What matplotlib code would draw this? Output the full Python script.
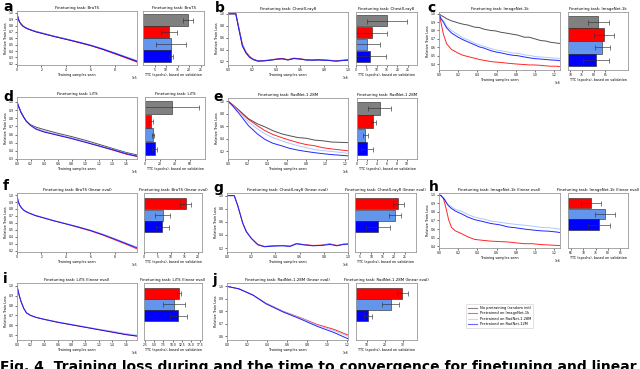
import matplotlib
matplotlib.use("Agg")
import matplotlib.pyplot as plt

# ---- curve data (x in training samples, y relative train loss) ----
# a / f : BraTS
brats_x = [0, 5e3, 1e4, 2e4, 3.5e4, 5e4, 7e4, 1e5, 1.5e5, 2e5, 3e5, 4e5, 5e5, 6e5, 7e5, 8e5, 9e5, 9.8e5]
brats_k = [1.0, 0.95, 0.91, 0.86, 0.82, 0.79, 0.765, 0.74, 0.71, 0.685, 0.635, 0.59, 0.54, 0.49, 0.43, 0.36, 0.29, 0.235]
brats_r = [1.0, 0.95, 0.91, 0.86, 0.82, 0.79, 0.765, 0.74, 0.705, 0.68, 0.63, 0.585, 0.535, 0.485, 0.425, 0.355, 0.285, 0.225]
brats_lb = [1.0, 0.95, 0.91, 0.86, 0.82, 0.79, 0.765, 0.74, 0.71, 0.685, 0.635, 0.59, 0.545, 0.495, 0.44, 0.37, 0.305, 0.25]
brats_b = [1.0, 0.95, 0.91, 0.86, 0.82, 0.79, 0.765, 0.74, 0.705, 0.68, 0.63, 0.585, 0.54, 0.49, 0.43, 0.365, 0.295, 0.24]

# b / g : ChestX-ray8
cxr_x = [0, 3e4, 6.5e4, 9e4, 1.2e5, 1.5e5, 1.8e5, 2.1e5, 2.5e5, 3e5, 3.5e5, 4e5, 4.5e5, 5e5, 5.5e5,
         6e5, 6.5e5, 7e5, 7.5e5, 8e5, 8.5e5, 9e5, 9.5e5, 1e6]
cxr_k = [1.0, 1.0, 1.0, 0.75, 0.46, 0.34, 0.27, 0.23, 0.205, 0.21, 0.22, 0.235, 0.245, 0.225, 0.25,
         0.24, 0.225, 0.22, 0.225, 0.22, 0.215, 0.205, 0.215, 0.22]
cxr_r = [1.0, 1.0, 1.0, 0.77, 0.49, 0.36, 0.285, 0.24, 0.21, 0.215, 0.225, 0.24, 0.25, 0.23, 0.255,
         0.245, 0.23, 0.225, 0.23, 0.225, 0.22, 0.21, 0.22, 0.23]
cxr_lb = [1.0, 1.0, 1.0, 0.76, 0.47, 0.35, 0.275, 0.235, 0.205, 0.21, 0.22, 0.235, 0.24, 0.225, 0.245,
          0.24, 0.225, 0.22, 0.22, 0.22, 0.215, 0.205, 0.215, 0.22]
cxr_b = [1.0, 1.0, 1.0, 0.75, 0.46, 0.345, 0.27, 0.232, 0.205, 0.21, 0.22, 0.235, 0.245, 0.225, 0.25,
         0.24, 0.225, 0.22, 0.225, 0.22, 0.215, 0.205, 0.215, 0.22]
cxrl_x = [0, 3e4, 6e4, 9e4, 1.3e5, 1.6e5, 2e5, 2.55e5, 3.1e5, 3.8e5, 4.6e5, 5.2e5, 5.75e5, 6.3e5,
          7.1e5, 7.8e5, 8.5e5, 9.1e5, 9.6e5, 1e6]
cxrl_r = [1.0, 1.0, 1.0, 0.84, 0.58, 0.45, 0.35, 0.255, 0.225, 0.235, 0.24, 0.23, 0.27, 0.255, 0.24,
          0.245, 0.265, 0.24, 0.26, 0.265]
cxrl_lb = [1.0, 1.0, 1.0, 0.84, 0.58, 0.45, 0.35, 0.25, 0.22, 0.23, 0.235, 0.225, 0.265, 0.25, 0.235,
           0.24, 0.26, 0.235, 0.255, 0.26]
cxrl_b = [1.0, 1.0, 1.0, 0.84, 0.58, 0.45, 0.35, 0.25, 0.22, 0.23, 0.235, 0.225, 0.265, 0.25, 0.235,
          0.24, 0.255, 0.235, 0.255, 0.26]

# c : ImageNet-1k
inet_x = [0, 2e4, 4.5e4, 8e4, 1.3e5, 2e5, 2.5e5, 3e5, 3.7e5, 4.2e5, 4.7e5, 5.4e5, 5.9e5, 6.4e5, 7.2e5,
          7.7e5, 8.2e5, 8.9e5, 9.4e5, 1.0e6, 1.06e6, 1.11e6, 1.16e6, 1.23e6, 1.26e6]
inet_k = [1.0, 0.98, 0.965, 0.94, 0.915, 0.89, 0.875, 0.865, 0.84, 0.835, 0.815, 0.8, 0.795, 0.78, 0.765,
          0.755, 0.745, 0.72, 0.72, 0.70, 0.68, 0.675, 0.66, 0.65, 0.645]
inet_r = [1.0, 0.9, 0.76, 0.64, 0.575, 0.53, 0.505, 0.49, 0.47, 0.455, 0.445, 0.43, 0.425, 0.42, 0.41,
          0.405, 0.40, 0.395, 0.39, 0.39, 0.385, 0.38, 0.375, 0.375, 0.37]
inet_lb = [1.0, 0.95, 0.92, 0.85, 0.8, 0.75, 0.71, 0.69, 0.65, 0.63, 0.61, 0.585, 0.57, 0.56, 0.545,
           0.53, 0.53, 0.51, 0.505, 0.49, 0.485, 0.48, 0.475, 0.47, 0.465]
inet_b = [1.0, 0.94, 0.9, 0.83, 0.77, 0.72, 0.69, 0.665, 0.63, 0.605, 0.59, 0.56, 0.545, 0.535, 0.515,
          0.505, 0.50, 0.485, 0.475, 0.465, 0.46, 0.455, 0.45, 0.445, 0.44]

# d / i : LiTS
lits_x = [0, 3e4, 6e4, 1e5, 1.4e5, 2e5, 2.8e5, 4e5, 6e5, 8e5, 1e6, 1.2e6, 1.4e6, 1.6e6, 1.76e6]
lits_k = [1.0, 0.93, 0.87, 0.81, 0.76, 0.72, 0.69, 0.66, 0.615, 0.575, 0.53, 0.48, 0.43, 0.38, 0.35]
lits_r = [1.0, 0.93, 0.87, 0.81, 0.76, 0.715, 0.67, 0.635, 0.595, 0.555, 0.51, 0.46, 0.41, 0.36, 0.33]
lits_lb = [1.0, 0.93, 0.87, 0.81, 0.76, 0.715, 0.675, 0.64, 0.6, 0.56, 0.515, 0.465, 0.42, 0.37, 0.34]
lits_b = [1.0, 0.93, 0.87, 0.81, 0.76, 0.71, 0.665, 0.63, 0.59, 0.55, 0.505, 0.46, 0.415, 0.365, 0.335]
litsl_r = [1.0, 0.91, 0.84, 0.77, 0.725, 0.7, 0.68, 0.66, 0.63, 0.605, 0.58, 0.555, 0.53, 0.505, 0.49]
litsl_lb = [1.0, 0.91, 0.84, 0.77, 0.725, 0.7, 0.68, 0.66, 0.635, 0.61, 0.585, 0.56, 0.54, 0.515, 0.5]
litsl_b = [1.0, 0.91, 0.84, 0.77, 0.725, 0.7, 0.68, 0.66, 0.63, 0.605, 0.58, 0.555, 0.53, 0.505, 0.49]

# e / j : RadNet-1.28M
rad_x = [0, 5e4, 1.1e5, 1.6e5, 2.1e5, 3e5, 3.8e5, 4.6e5, 5.5e5, 6.3e5, 7.2e5, 8e5, 8.9e5, 9.7e5, 1.06e6, 1.15e6, 1.23e6]
rad_k = [1.0, 0.94, 0.86, 0.79, 0.72, 0.64, 0.59, 0.53, 0.48, 0.45, 0.42, 0.41, 0.38, 0.37, 0.35, 0.345, 0.34]
rad_r = [1.0, 0.94, 0.85, 0.78, 0.71, 0.61, 0.53, 0.47, 0.42, 0.38, 0.34, 0.31, 0.29, 0.26, 0.24, 0.225, 0.21]
rad_lb = [1.0, 0.93, 0.84, 0.75, 0.67, 0.56, 0.48, 0.42, 0.37, 0.33, 0.29, 0.26, 0.23, 0.215, 0.2, 0.185, 0.17]
rad_b = [1.0, 0.92, 0.81, 0.71, 0.61, 0.48, 0.39, 0.33, 0.29, 0.25, 0.22, 0.2, 0.18, 0.165, 0.15, 0.14, 0.13]
radl_x = [0, 1.2e5, 2.6e5, 3.9e5, 5.6e5, 7.3e5, 9e5, 1.07e6, 1.21e6]
radl_r = [1.0, 0.98, 0.93, 0.865, 0.8, 0.75, 0.695, 0.655, 0.61]
radl_lb = [1.0, 0.98, 0.93, 0.865, 0.8, 0.748, 0.69, 0.645, 0.6]
radl_b = [1.0, 0.98, 0.93, 0.86, 0.795, 0.74, 0.68, 0.63, 0.58]

# h : ImageNet-1k (linear eval)
inl_x = [0, 2e4, 4.5e4, 6e4, 8e4, 1e5, 1.3e5, 1.7e5, 2.3e5, 3e5, 3.7e5, 4.5e5, 5.4e5, 6.3e5, 7.2e5,
         8e5, 8.9e5, 9.7e5, 1.06e6, 1.15e6, 1.23e6, 1.26e6]
inl_r = [1.0, 0.99, 0.96, 0.9, 0.81, 0.71, 0.62, 0.58, 0.55, 0.51, 0.48, 0.47, 0.46, 0.455, 0.45,
         0.44, 0.43, 0.43, 0.42, 0.415, 0.41, 0.41]
inl_lb = [1.0, 0.99, 0.97, 0.95, 0.91, 0.88, 0.86, 0.83, 0.81, 0.77, 0.74, 0.72, 0.695, 0.68, 0.665,
          0.655, 0.645, 0.635, 0.62, 0.615, 0.605, 0.6]
inl_b = [1.0, 0.99, 0.96, 0.94, 0.9, 0.87, 0.84, 0.81, 0.78, 0.74, 0.71, 0.69, 0.665, 0.65, 0.625,
         0.615, 0.6, 0.59, 0.58, 0.575, 0.565, 0.56]

# ---- TTC bars (epochs): mean and std, order: random, ImageNet-1k, RadNet-1.28M, RadNet-12M ----
ttc_brats = [19.4, 11.3, 12.0, 12.2]
ttc_brats_err = [2.2, 3.5, 6.5, 0.8]
ttc_cxr = [15.0, 7.5, 5.3, 7.0]
ttc_cxr_err = [9.7, 7.3, 6.5, 7.5]
ttc_inet = [81.9, 84.3, 83.6, 81.0]
ttc_inet_err = [4.5, 4.3, 3.2, 5.5]
ttc_lits = [36.4, 8.2, 10.5, 12.7]
ttc_lits_err = [36.0, 2.5, 1.5, 3.3]
ttc_rad = [4.5, 3.2, 1.6, 2.0]
ttc_rad_err = [2.3, 0.5, 0.5, 1.2]
# linear eval (no random init bar)
ttc_bratsl = [15.4, 6.9, 6.8]
ttc_bratsl_err = [2.0, 2.8, 2.5]
ttc_cxrl = [22.0, 20.5, 13.0]
ttc_cxrl_err = [2.5, 2.5, 5.2]
ttc_inl = [73.1, 78.9, 76.2]
ttc_inl_err = [4.1, 4.0, 4.5]
ttc_litsl = [11.8, 10.4, 11.5]
ttc_litsl_err = [0.6, 2.9, 2.3]
ttc_radl = [29.6, 23.2, 10.6]
ttc_radl_err = [3.0, 4.6, 2.2]

labels = ["No pretraining (random init)", "Pretrained on ImageNet-1k",
          "Pretrained on RadNet-1.28M", "Pretrained on RadNet-12M"]
line_cols = ["#333333", "red", "#9ec0ff", "blue"]
bar_cols = ["#808080", "red", "cornflowerblue", "blue"]

W, H = 640, 369
fig = plt.figure(figsize=(6.4, 3.69), dpi=100)


def px_axes(x0, y0, x1, y1):
    ax = fig.add_axes([x0 / W, 1 - y1 / H, (x1 - x0) / W, (y1 - y0) / H])
    for s in ax.spines.values():
        s.set_linewidth(0.6)
        s.set_color("#999999")
    ax.tick_params(labelsize=2.2, length=1.2, width=0.4, pad=1)
    return ax


def line_panel(rect, title, xs, ys, cols, ylim, yticks, xlim, xticks):
    ax = px_axes(*rect)
    for y, c in zip(ys, cols):
        ax.plot(xs, y, color=c, lw=0.7, alpha=0.85)
    ax.set_xlim(*xlim)
    ax.set_xticks(xticks)
    ax.ticklabel_format(style="sci", axis="x", scilimits=(0, 0))
    ax.set_ylim(*ylim)
    ax.set_yticks(yticks)
    ax.set_title(title, fontsize=2.8, pad=1.5)
    ax.set_xlabel("Training samples seen", fontsize=2.4, labelpad=0.5)
    ax.set_ylabel("Relative Train Loss", fontsize=2.4, labelpad=1)
    ax.xaxis.get_offset_text().set_fontsize(2.2)
    return ax


def bar_panel(rect, title, vals, errs, cols, xlim, xticks, ylim):
    ax = px_axes(*rect)
    pos = list(range(len(vals)))
    ax.barh(pos, vals, xerr=errs, color=cols, height=0.95, edgecolor="#222222", linewidth=0.4,
            error_kw=dict(ecolor="#333333", elinewidth=0.6, capsize=1.8, capthick=0.6, alpha=0.75))
    ax.set_xlim(*xlim)
    ax.set_xticks(xticks)
    ax.set_ylim(*ylim)
    ax.set_yticks([])
    ax.set_title(title, fontsize=2.8, pad=1.5)
    ax.set_xlabel("TTC (epochs), based on validation", fontsize=2.4, labelpad=0.5)
    return ax


def letter(x, y, s):
    fig.text(x / W, 1 - y / H, s, fontsize=10, fontweight="bold", va="center", ha="left")


y4 = (3.75, -0.75)
y3 = (4.15, -0.9)

# row 1
line_panel((17, 11, 137, 65), "Finetuning task: BraTS", brats_x, [brats_k, brats_r, brats_lb, brats_b],
           line_cols, (0.18, 1.03), [0.2, 0.3, 0.4, 0.5, 0.6, 0.7, 0.8, 0.9, 1.0], (0, 9.8e5), [0, 2e5, 4e5, 6e5, 8e5])
bar_panel((143, 11, 204, 65), "Finetuning task: BraTS", ttc_brats, ttc_brats_err, bar_cols,
          (0, 26.5), [5, 10, 15, 20, 25], y4)
line_panel((228, 12, 348, 65), "Finetuning task: ChestX-ray8", cxr_x, [cxr_k, cxr_r, cxr_lb, cxr_b],
           line_cols, (0.14, 1.03), [0.2, 0.4, 0.6, 0.8, 1.0], (0, 1e6), [0, 2e5, 4e5, 6e5, 8e5, 1e6])
bar_panel((356, 12, 417, 65), "Finetuning task: ChestX-ray8", ttc_cxr, ttc_cxr_err, bar_cols,
          (0, 29.5), [0, 5, 10, 15, 20, 25], y4)
line_panel((439, 12, 560, 70), "Finetuning task: ImageNet-1k", inet_x, [inet_k, inet_r, inet_lb, inet_b],
           line_cols, (0.33, 1.02), [0.4, 0.5, 0.6, 0.7, 0.8, 0.9, 1.0], (0, 1.26e6),
           [0, 2e5, 4e5, 6e5, 8e5, 1e6, 1.2e6])
bar_panel((568, 12, 628, 70), "Finetuning task: ImageNet-1k", ttc_inet, ttc_inet_err, bar_cols,
          (69, 94.7), [70, 75, 80, 85], y4)

# row 2
line_panel((17, 97, 137, 159), "Finetuning task: LiTS", lits_x, [lits_k, lits_r, lits_lb, lits_b],
           line_cols, (0.3, 1.06), [0.3, 0.4, 0.5, 0.6, 0.7, 0.8, 0.9, 1.0], (0, 1.76e6),
           [0, 2e5, 4e5, 6e5, 8e5, 1e6, 1.2e6, 1.4e6, 1.6e6])
bar_panel((145, 97, 205, 159), "Finetuning task: LiTS", ttc_lits, ttc_lits_err, bar_cols,
          (0, 80), [0, 20, 40, 60], y4)
line_panel((228, 98, 348, 159), "Finetuning task: RadNet-1.28M", rad_x, [rad_k, rad_r, rad_lb, rad_b],
           line_cols, (0.08, 1.05), [0.2, 0.4, 0.6, 0.8, 1.0], (0, 1.23e6),
           [0, 2e5, 4e5, 6e5, 8e5, 1e6, 1.2e6])
bar_panel((357, 98, 417, 159), "Finetuning task: RadNet-1.28M", ttc_rad, ttc_rad_err, bar_cols,
          (0, 12), [0, 2, 4, 6, 8, 10], y4)

# row 3
line_panel((17, 193, 137, 252), "Finetuning task: BraTS (linear eval)", brats_x, [brats_r, brats_lb, brats_b],
           line_cols[1:], (0.18, 1.03), [0.2, 0.3, 0.4, 0.5, 0.6, 0.7, 0.8, 0.9, 1.0], (0, 9.8e5),
           [0, 2e5, 4e5, 6e5, 8e5])
bar_panel((144, 193, 202, 252), "Finetuning task: BraTS (linear eval)", ttc_bratsl, ttc_bratsl_err, bar_cols[1:],
          (0, 21.5), [0, 5, 10, 15, 20], y3)
line_panel((227, 193, 348, 252), "Finetuning task: ChestX-ray8 (linear eval)", cxrl_x, [cxrl_r, cxrl_lb, cxrl_b],
           line_cols[1:], (0.14, 1.04), [0.2, 0.4, 0.6, 0.8, 1.0], (0, 1e6), [0, 2e5, 4e5, 6e5, 8e5, 1e6])
bar_panel((355, 193, 416, 252), "Finetuning task: ChestX-ray8 (linear eval)", ttc_cxrl, ttc_cxrl_err, bar_cols[1:],
          (2.8, 29.8), [5, 10, 15, 20, 25], y3)
line_panel((439, 193, 560, 248), "Finetuning task: ImageNet-1k (linear eval)", inl_x, [inl_r, inl_lb, inl_b],
           line_cols[1:], (0.38, 1.02), [0.4, 0.5, 0.6, 0.7, 0.8, 0.9, 1.0], (0, 1.26e6),
           [0, 2e5, 4e5, 6e5, 8e5, 1e6, 1.2e6])
bar_panel((568, 193, 628, 248), "Finetuning task: ImageNet-1k (linear eval)", ttc_inl, ttc_inl_err, bar_cols[1:],
          (63.8, 88.1), [65, 70, 75, 80, 85], y3)

# row 4
line_panel((17, 283, 137, 340), "Finetuning task: LiTS (linear eval)", lits_x, [litsl_r, litsl_lb, litsl_b],
           line_cols[1:], (0.45, 1.03), [0.5, 0.6, 0.7, 0.8, 0.9, 1.0], (0, 1.76e6),
           [0, 2e5, 4e5, 6e5, 8e5, 1e6, 1.2e6, 1.4e6, 1.6e6])
bar_panel((144, 283, 202, 340), "Finetuning task: LiTS (linear eval)", ttc_litsl, ttc_litsl_err, bar_cols[1:],
          (2.2, 18.0), [2.5, 5.0, 7.5, 10.0, 12.5, 15.0, 17.5], y3)
line_panel((227, 283, 348, 340), "Finetuning task: RadNet-1.28M (linear eval)", radl_x, [radl_r, radl_lb, radl_b],
           line_cols[1:], (0.57, 1.027), [0.6, 0.7, 0.8, 0.9, 1.0], (0, 1.21e6),
           [0, 2e5, 4e5, 6e5, 8e5, 1e6, 1.2e6])
bar_panel((356, 283, 417, 340), "Finetuning task: RadNet-1.28M (linear eval)", ttc_radl, ttc_radl_err, bar_cols[1:],
          (3.9, 37.8), [10, 20, 30], y3)

for s, x, y in [("a", 3, 7), ("b", 215, 8), ("c", 427, 8), ("d", 3, 97), ("e", 213, 97),
                ("f", 3, 186), ("g", 213, 188), ("h", 429, 187), ("i", 3, 279), ("j", 213, 280)]:
    letter(x, y, s)

# legend
handles = [plt.Line2D([], [], color=c, lw=0.8, alpha=0.6) for c in line_cols]
fig.legend(handles, labels, loc="upper left", bbox_to_anchor=(464 / W, 1 - 302 / H), fontsize=2.6,
           frameon=True, handlelength=2.5, borderpad=0.6, labelspacing=0.4, framealpha=1,
           edgecolor="#cccccc").get_frame().set_linewidth(0.4)

# cut-off caption
fig.text(0.0, 1 - 371 / H, "Fig. 4  Training loss during and the time to convergence for finetuning and linear",
         fontsize=10, fontweight="bold", va="baseline", ha="left")

fig.savefig("out.png", dpi=100)
